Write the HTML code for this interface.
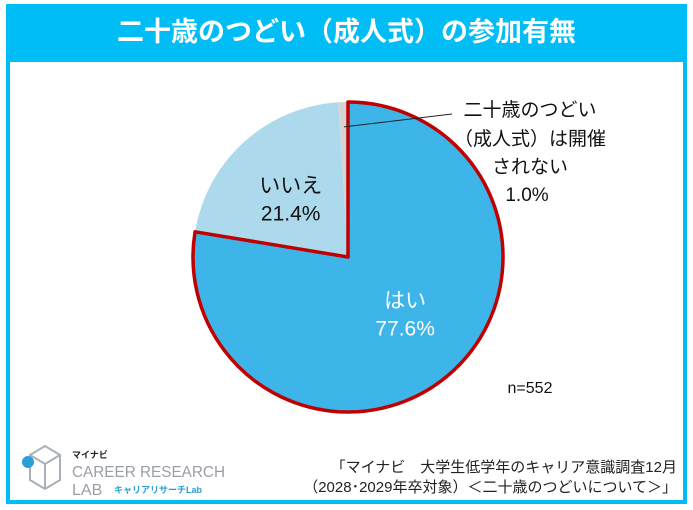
<!DOCTYPE html>
<html><head><meta charset="utf-8"><style>
html,body{margin:0;padding:0;background:#fff;}
body{width:693px;height:510px;position:relative;overflow:hidden;font-family:"Liberation Sans","Noto Sans CJK JP",sans-serif;}
#frame{position:absolute;left:6px;top:4px;width:673px;height:492px;border:4px solid #00BEF5;}
#header{position:absolute;left:6px;top:4px;width:681px;height:58px;background:#00BEF5;color:#fff;font-size:27px;font-weight:bold;text-align:center;line-height:56px;}
svg{position:absolute;left:0;top:0;}
.src{position:absolute;right:16px;font-size:15px;color:#222;white-space:nowrap;}
</style></head><body>
<div id="frame"></div>
<div id="header">二十歳のつどい（成人式）の参加有無</div>
<svg id="chart" width="693" height="510"></svg>
<div class="src" style="top:456px">「マイナビ　大学生低学年のキャリア意識調査12月</div>
<div class="src" style="top:476px">（2028･2029年卒対象）＜二十歳のつどいについて＞」</div>
<svg width="693" height="510">
<g fill="none" stroke="#aab0b8" stroke-width="2">
<path d="M30 455 L45 446 L60 455 L60 480 L45 489 L30 480 Z"/>
<path d="M30 455 L45 464 L60 455 M45 464 L45 489"/>
</g>
<circle cx="28" cy="462" r="6" fill="#2a9fd6"/>
<text x="72" y="458" font-size="9" font-weight="bold" fill="#222">マイナビ</text>
<text x="72" y="477" font-size="16" fill="#9a9ea6" textLength="153" lengthAdjust="spacingAndGlyphs">CAREER RESEARCH</text>
<text x="72" y="495" font-size="16" fill="#9a9ea6">LAB</text>
<text x="114" y="493" font-size="9" font-weight="bold" fill="#2a9fd6">キャリアリサーチLab</text>
</svg>
<script>
const categories=["はい","いいえ","二十歳のつどい（成人式）は開催されない"];
const values=[77.6,21.4,1.0];
const labels=["77.6%","21.4%","1.0%"];
const colors=["#3DB5E9","#ADD9EC","#D4D4D4"];
const svg=document.getElementById('chart');
const NS='http://www.w3.org/2000/svg';
const cx=348,cy=257,r=155;
const total=values.reduce((a,b)=>a+b,0);
function pt(a,rr){return [cx+rr*Math.sin(a),cy-rr*Math.cos(a)];}
let start=0;const mids=[];
values.forEach((v,i)=>{
  const end=start+v/total*2*Math.PI;
  const [x1,y1]=pt(start,r),[x2,y2]=pt(end,r);
  const large=(end-start)>Math.PI?1:0;
  const p=document.createElementNS(NS,'path');
  p.setAttribute('d',`M${cx},${cy} L${x1},${y1} A${r},${r} 0 ${large} 1 ${x2},${y2} Z`);
  p.setAttribute('fill',colors[i]);
  
  
  svg.appendChild(p);
  mids.push([start,end]);
  start=end;
});
{const [s,e]=mids[0];const [x1,y1]=pt(s,r),[x2,y2]=pt(e,r);
 const o=document.createElementNS(NS,'path');
 o.setAttribute('d',`M${cx},${cy} L${x1},${y1} A${r},${r} 0 ${(e-s)>Math.PI?1:0} 1 ${x2},${y2} Z`);
 o.setAttribute('fill','none');o.setAttribute('stroke','#C00000');o.setAttribute('stroke-width','3.5');o.setAttribute('stroke-linejoin','round');
 
 
 svg.appendChild(o);}
function txt(x,y,s,size,fill,name){const t=document.createElementNS(NS,'text');t.setAttribute('x',x);t.setAttribute('y',y);t.setAttribute('font-size',size);t.setAttribute('fill',fill);t.setAttribute('text-anchor','middle');t.textContent=s;
 
 
 svg.appendChild(t);}
{const [s,e]=mids[0];const [x,y]=pt((s+e)/2,r*0.47);
 txt(x+10,y-5,categories[0],21,'#fff','label-hai');txt(x+10,y+23,labels[0],21,'#fff','value-hai');}
{const [s,e]=mids[1];const [x,y]=pt((s+e)/2,r*0.58);
 txt(x+3,y+2,categories[1],21,'#111','label-iie');txt(x+3,y+30,labels[1],21,'#111','value-iie');}
{const [s,e]=mids[2];const [x,y]=pt((s+e)/2,r*0.84);
 const l=document.createElementNS(NS,'line');l.setAttribute('x1',x);l.setAttribute('y1',y);l.setAttribute('x2',452);l.setAttribute('y2',114);l.setAttribute('stroke','#222');l.setAttribute('stroke-width','1');
 
 
 svg.appendChild(l);
 txt(530,116,'二十歳のつどい',19,'#111','label-none-1');txt(530,145,'（成人式）は開催',19,'#111','label-none-2');txt(530,173,'されない',19,'#111','label-none-3');txt(527,201,labels[2],19,'#111','value-none');}
txt(530,393,'n=552',16,'#111','sample-size');
</script>
</body></html>
